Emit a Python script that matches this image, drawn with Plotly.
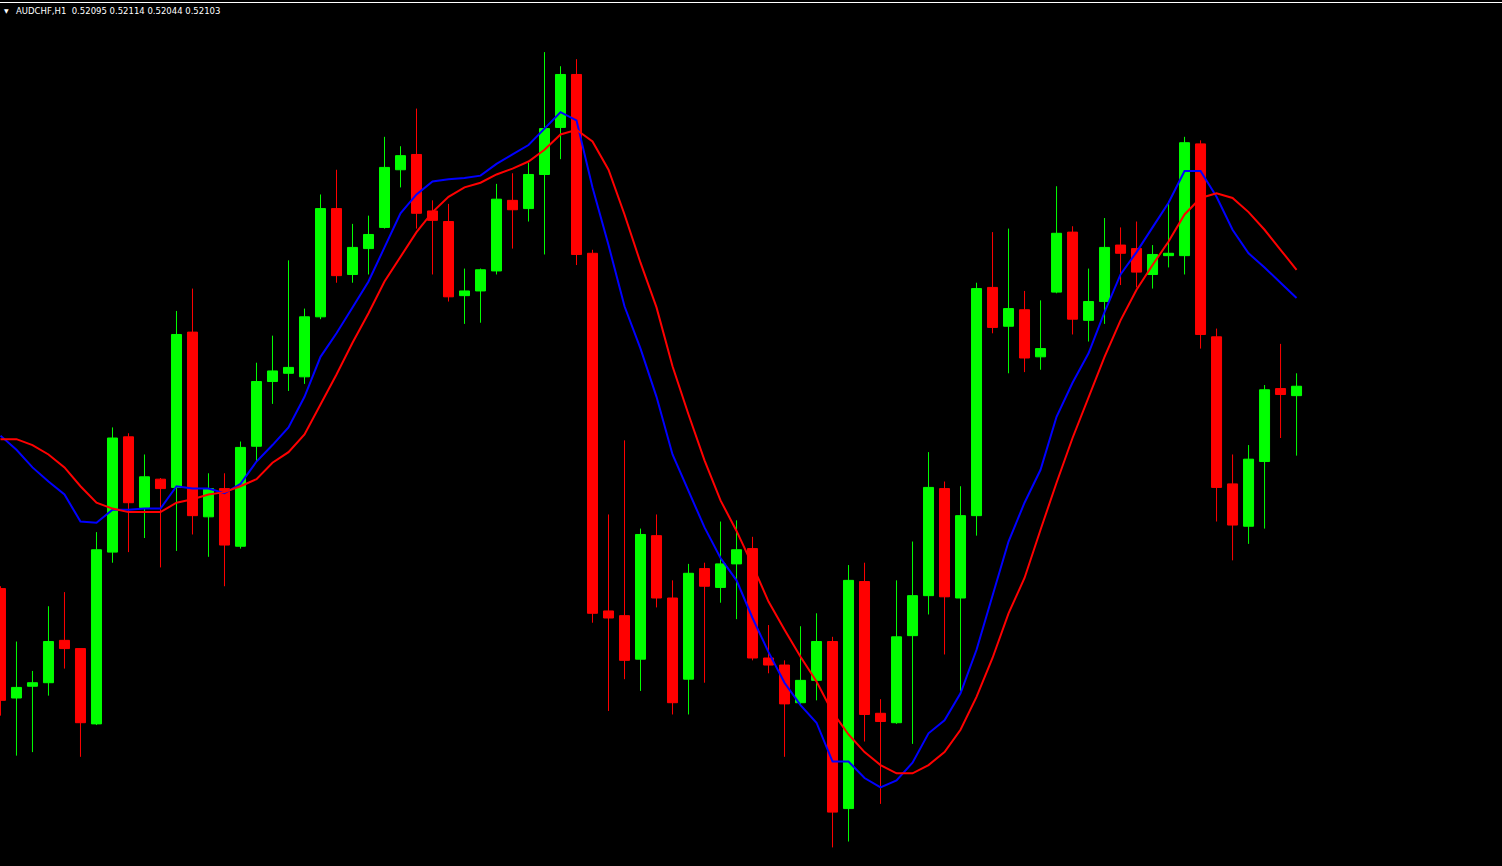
import plotly.graph_objects as go

symbol = "AUDCHF,H1"

opens = [0.51931, 0.51838, 0.51848, 0.51851, 0.51887, 0.51880, 0.51816, 0.51962, 0.52060, 0.52000,
         0.52024, 0.52017, 0.52149, 0.51992, 0.52016, 0.51967, 0.52052, 0.52107, 0.52114, 0.52111,
         0.52162, 0.52254, 0.52198, 0.52220, 0.52238, 0.52287, 0.52300, 0.52252, 0.52243, 0.52180,
         0.52184, 0.52201, 0.52261, 0.52254, 0.52283, 0.52323, 0.52368, 0.52216, 0.51912, 0.51908,
         0.51871, 0.51976, 0.51923, 0.51854, 0.51948, 0.51932, 0.51952, 0.51965, 0.51872, 0.51866,
         0.51834, 0.51853, 0.51886, 0.51744, 0.51937, 0.51825, 0.51817, 0.51891, 0.51925, 0.52016,
         0.51923, 0.51993, 0.52187, 0.52154, 0.52168, 0.52128, 0.52183, 0.52234, 0.52159, 0.52175,
         0.52223, 0.52220, 0.52198, 0.52214, 0.52214, 0.52309, 0.52145, 0.52020, 0.51984, 0.52039,
         0.52101, 0.52095]
highs = [0.51933, 0.51886, 0.51861, 0.51916, 0.51928, 0.51880, 0.51979, 0.52068, 0.52063, 0.52045,
         0.52025, 0.52167, 0.52186, 0.52029, 0.52029, 0.52056, 0.52123, 0.52146, 0.52210, 0.52169,
         0.52266, 0.52287, 0.52241, 0.52248, 0.52315, 0.52307, 0.52339, 0.52261, 0.52258, 0.52203,
         0.52203, 0.52275, 0.52284, 0.52293, 0.52387, 0.52375, 0.52381, 0.52219, 0.51994, 0.52057,
         0.51982, 0.51994, 0.51938, 0.51952, 0.51953, 0.51988, 0.51989, 0.51975, 0.51900, 0.51870,
         0.51899, 0.51910, 0.51890, 0.51951, 0.51953, 0.51837, 0.51938, 0.51971, 0.52047, 0.52022,
         0.52018, 0.52191, 0.52234, 0.52237, 0.52184, 0.52176, 0.52273, 0.52239, 0.52203, 0.52246,
         0.52238, 0.52243, 0.52223, 0.52260, 0.52315, 0.52312, 0.52152, 0.52045, 0.52053, 0.52104,
         0.52139, 0.52114]
lows = [0.51823, 0.51789, 0.51792, 0.51840, 0.51863, 0.51788, 0.51815, 0.51953, 0.51962, 0.51974,
        0.51949, 0.51963, 0.51977, 0.51958, 0.51933, 0.51965, 0.52039, 0.52088, 0.52099, 0.52105,
        0.52160, 0.52191, 0.52191, 0.52198, 0.52237, 0.52272, 0.52237, 0.52198, 0.52175, 0.52156,
        0.52157, 0.52198, 0.52220, 0.52243, 0.52215, 0.52296, 0.52206, 0.51902, 0.51827, 0.51854,
        0.51844, 0.51915, 0.51824, 0.51824, 0.51851, 0.51919, 0.51905, 0.51870, 0.51859, 0.51788,
        0.51833, 0.51836, 0.51711, 0.51716, 0.51801, 0.51748, 0.51816, 0.51799, 0.51909, 0.51875,
        0.51844, 0.51976, 0.52148, 0.52114, 0.52115, 0.52117, 0.52182, 0.52147, 0.52141, 0.52156,
        0.52189, 0.52187, 0.52186, 0.52204, 0.52198, 0.52135, 0.51988, 0.51955, 0.51969, 0.51982,
        0.52059, 0.52044]
closes = [0.51836, 0.51847, 0.51851, 0.51886, 0.51880, 0.51817, 0.51964, 0.52059, 0.52004, 0.52026,
          0.52016, 0.52147, 0.51993, 0.52016, 0.51968, 0.52051, 0.52107, 0.52116, 0.52119, 0.52162,
          0.52254, 0.52197, 0.52221, 0.52232, 0.52289, 0.52299, 0.52250, 0.52244, 0.52179, 0.52184,
          0.52202, 0.52262, 0.52253, 0.52283, 0.52322, 0.52368, 0.52215, 0.51910, 0.51906, 0.51870,
          0.51977, 0.51923, 0.51834, 0.51944, 0.51933, 0.51952, 0.51964, 0.51872, 0.51866, 0.51833,
          0.51853, 0.51886, 0.51741, 0.51938, 0.51824, 0.51818, 0.51890, 0.51925, 0.52017, 0.51924,
          0.51993, 0.52186, 0.52153, 0.52169, 0.52127, 0.52135, 0.52233, 0.52160, 0.52175, 0.52221,
          0.52216, 0.52200, 0.52215, 0.52216, 0.52310, 0.52147, 0.52017, 0.51985, 0.52041, 0.52100,
          0.52096, 0.52103]

ma_fast = [0.52061, 0.52049, 0.52034, 0.52022, 0.52011, 0.51988, 0.51987, 0.51998, 0.51998, 0.51999,
           0.51999, 0.52018, 0.52016, 0.52016, 0.52012, 0.52020, 0.52039, 0.52053, 0.52068, 0.52094,
           0.52128, 0.52148, 0.52170, 0.52192, 0.52221, 0.52250, 0.52266, 0.52277, 0.52279, 0.52280,
           0.52282, 0.52292, 0.52300, 0.52308, 0.52322, 0.52336, 0.52329, 0.52272, 0.52223, 0.52171,
           0.52135, 0.52094, 0.52045, 0.52014, 0.51983, 0.51957, 0.51938, 0.51906, 0.51877, 0.51851,
           0.51832, 0.51817, 0.51784, 0.51784, 0.51770, 0.51762, 0.51768, 0.51783, 0.51808, 0.51819,
           0.51842, 0.51879, 0.51925, 0.51971, 0.52004, 0.52032, 0.52077, 0.52106, 0.52131, 0.52166,
           0.52198, 0.52217, 0.52238, 0.52259, 0.52286, 0.52286, 0.52264, 0.52236, 0.52216, 0.52204,
           0.52191, 0.52178]
ma_slow = [0.52058, 0.52058, 0.52053, 0.52045, 0.52034, 0.52018, 0.52004, 0.51999, 0.51996, 0.51996,
           0.51996, 0.52004, 0.52007, 0.52011, 0.52013, 0.52018, 0.52024, 0.52038, 0.52047, 0.52062,
           0.52087, 0.52113, 0.52140, 0.52165, 0.52192, 0.52213, 0.52234, 0.52251, 0.52264, 0.52272,
           0.52276, 0.52283, 0.52288, 0.52294, 0.52304, 0.52317, 0.52321, 0.52311, 0.52287, 0.52249,
           0.52208, 0.52170, 0.52120, 0.52079, 0.52040, 0.52006, 0.51980, 0.51951, 0.51920, 0.51896,
           0.51873, 0.51852, 0.51826, 0.51807, 0.51792, 0.51781, 0.51774, 0.51774, 0.51781, 0.51792,
           0.51811, 0.51839, 0.51872, 0.51910, 0.51940, 0.51981, 0.52021, 0.52059, 0.52094, 0.52128,
           0.52159, 0.52185, 0.52206, 0.52226, 0.52249, 0.52263, 0.52267, 0.52263, 0.52251, 0.52236,
           0.52219, 0.52202]

bars = list(range(len(closes)))

fig = go.Figure()
fig.add_trace(go.Candlestick(
    x=bars, open=opens, high=highs, low=lows, close=closes,
    increasing=dict(line=dict(color="#00FF00", width=1), fillcolor="#00FF00"),
    decreasing=dict(line=dict(color="#FF0000", width=1), fillcolor="#FF0000"),
    whiskerwidth=0, showlegend=False, hoverinfo="skip",
))
fig.add_trace(go.Scatter(x=bars, y=ma_fast, mode="lines",
                         line=dict(color="#0000FF", width=2), showlegend=False, hoverinfo="skip"))
fig.add_trace(go.Scatter(x=bars, y=ma_slow, mode="lines",
                         line=dict(color="#FF0000", width=2), showlegend=False, hoverinfo="skip"))

header = "%s  %.5f %.5f %.5f %.5f" % (symbol, opens[-1], highs[-1], lows[-1], closes[-1])

fig.update_layout(
    width=1502, height=866,
    margin=dict(l=0, r=0, t=0, b=0),
    paper_bgcolor="#000000", plot_bgcolor="#000000",
    boxgap=0.375, boxgroupgap=0,
    xaxis=dict(visible=False, range=[-0.03, 93.84], rangeslider=dict(visible=False)),
    yaxis=dict(visible=False, range=[0.516952, 0.524313]),
    shapes=[dict(type="line", xref="paper", yref="paper", x0=0, x1=1,
                 y0=1 - 2.5 / 866, y1=1 - 2.5 / 866, line=dict(color="#FFFFFF", width=1))],
    annotations=[
        dict(text=header, xref="paper", yref="paper", x=13.5 / 1502, y=1 - 11 / 866,
             xanchor="left", yanchor="middle", showarrow=False,
             font=dict(family="DejaVu Sans", size=8.5, color="#FFFFFF")),
        dict(text="▼", xref="paper", yref="paper", x=6.5 / 1502, y=1 - 10.5 / 866,
             xanchor="center", yanchor="middle", showarrow=False,
             font=dict(family="DejaVu Sans", size=6, color="#FFFFFF")),
    ],
)

fig.write_html(
    "out.html",
    config={"displayModeBar": False},
    post_script="document.body.style.margin='0';document.body.style.overflow='hidden';document.body.style.background='#000';",
)
